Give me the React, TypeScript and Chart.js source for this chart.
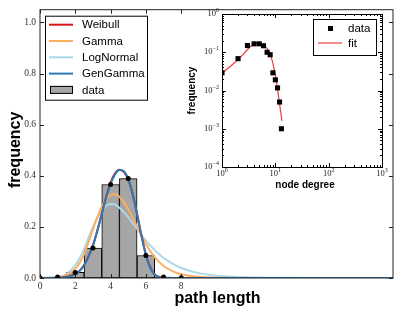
import React, { useEffect, useRef } from 'react';
import { Chart, registerables } from 'chart.js';
Chart.register(...registerables);

const W = 399;
const H = 316;

// ---- main panel data ----
const pathLengths = [0, 1, 2, 3, 4, 5, 6, 7, 8];
const pathFreq = [0.001, 0.004, 0.022, 0.117, 0.366, 0.389, 0.088, 0.004, 0.001];
const curveX = [0, 1, 1.5, 2, 2.25, 2.5, 2.75, 3, 3.25, 3.5, 3.75, 4, 4.25, 4.5, 4.75, 5, 5.25, 5.5, 5.75, 6, 6.25, 6.5, 6.75, 7, 7.5, 8, 9, 10, 11, 12, 13, 14, 16, 20];
const weibull = [0, 0.001, 0.005, 0.016, 0.029, 0.051, 0.085, 0.128, 0.186, 0.252, 0.318, 0.374, 0.41, 0.424, 0.415, 0.384, 0.328, 0.25, 0.166, 0.092, 0.042, 0.014, 0.004, 0.001, 0, 0, 0, 0, 0, 0, 0, 0, 0, 0];
const gamma = [0, 0.001, 0.01, 0.036, 0.06, 0.094, 0.14, 0.19, 0.238, 0.279, 0.309, 0.324, 0.328, 0.318, 0.297, 0.268, 0.236, 0.201, 0.166, 0.133, 0.105, 0.082, 0.063, 0.047, 0.027, 0.015, 0.0045, 0.0013, 0.0004, 0.0001, 0, 0, 0, 0];
const logNormal = [0, 0.002, 0.015, 0.05, 0.078, 0.113, 0.158, 0.2, 0.237, 0.265, 0.283, 0.29, 0.287, 0.275, 0.258, 0.238, 0.215, 0.192, 0.168, 0.146, 0.127, 0.109, 0.093, 0.079, 0.056, 0.039, 0.019, 0.009, 0.0045, 0.0022, 0.001, 0.0005, 0.0001, 0];
const genGamma = [0, 0.0005, 0.003, 0.014, 0.028, 0.05, 0.084, 0.127, 0.185, 0.25, 0.315, 0.368, 0.405, 0.423, 0.418, 0.388, 0.33, 0.25, 0.165, 0.09, 0.04, 0.013, 0.003, 0.0005, 0, 0, 0, 0, 0, 0, 0, 0, 0, 0];
const xTickValues = [0, 2, 4, 6, 8];
const yTickValues = [0, 0.2, 0.4, 0.6, 0.8, 1.0];
const xRange = [0, 20];
const yRange = [0, 1.05];

// ---- inset data ----
const degree = [1, 2, 3, 4, 5, 6, 7, 8, 9, 10, 11, 12, 13];
const degreeFreq = [0.029, 0.068, 0.15, 0.166, 0.166, 0.148, 0.1, 0.086, 0.029, 0.019, 0.0117, 0.005, 0.001];
const fitX = [1, 1.5, 2, 2.5, 3, 3.5, 4, 4.5, 5, 6, 7, 8, 9, 10, 11, 12, 13.3];
const fitY = [0.028, 0.045, 0.064, 0.088, 0.118, 0.145, 0.163, 0.172, 0.17, 0.153, 0.127, 0.093, 0.052, 0.026, 0.011, 0.0045, 0.0016];
const insetXTicks = [1, 10, 100, 1000];
const insetYTicks = [1e-4, 1e-3, 1e-2, 1e-1, 1];

const SANS = '"Liberation Sans", Arial, sans-serif';
const SERIF = '"Liberation Serif", "DejaVu Serif", serif';

const mainPlugin = {
  id: 'mainDecor',
  afterDraw(chart: any) {
    const { ctx, chartArea: ca, scales } = chart;
    const xs = scales.x;
    const ys = scales.y;
    ctx.save();
    // spines
    ctx.strokeStyle = '#222';
    ctx.lineWidth = 1;
    ctx.strokeRect(ca.left, ca.top, ca.right - ca.left, ca.bottom - ca.top);
    // inward ticks
    ctx.beginPath();
    const tl = 4;
    xTickValues.forEach((v) => {
      const px = Math.round(xs.getPixelForValue(v)) + 0.5;
      ctx.moveTo(px, ca.bottom);
      ctx.lineTo(px, ca.bottom - tl);
      ctx.moveTo(px, ca.top);
      ctx.lineTo(px, ca.top + tl);
    });
    yTickValues.forEach((v) => {
      const py = Math.round(ys.getPixelForValue(v)) + 0.5;
      ctx.moveTo(ca.left, py);
      ctx.lineTo(ca.left + tl, py);
      ctx.moveTo(ca.right, py);
      ctx.lineTo(ca.right - tl, py);
    });
    ctx.stroke();

    // axis titles
    ctx.fillStyle = '#000';
    ctx.font = 'bold 16px ' + SANS;
    ctx.textAlign = 'center';
    ctx.textBaseline = 'middle';
    ctx.fillText('path length', (ca.left + ca.right) / 2 + 1, 299);
    ctx.save();
    ctx.translate(16, (ca.top + ca.bottom) / 2 + 6);
    ctx.rotate(-Math.PI / 2);
    ctx.fillText('frequency', 0, 0);
    ctx.restore();

    // legend
    const lx = ca.left + 5;
    const ly = ca.top + 6;
    const lw = 103;
    const lh = 85;
    ctx.fillStyle = '#fff';
    ctx.fillRect(lx, ly, lw, lh);
    ctx.strokeStyle = '#000';
    ctx.lineWidth = 1;
    ctx.strokeRect(lx + 0.5, ly + 0.5, lw - 1, lh - 1);
    const ds = chart.data.datasets;
    const entries = [ds[1], ds[2], ds[3], ds[4], ds[0]];
    ctx.font = '11.5px ' + SANS;
    ctx.textAlign = 'left';
    ctx.textBaseline = 'middle';
    entries.forEach((d: any, i: number) => {
      const ey = ly + 9 + i * 16.3;
      if (d.type === 'bar') {
        ctx.fillStyle = d.backgroundColor;
        ctx.fillRect(lx + 5, ey - 4, 23, 8);
        ctx.strokeStyle = '#000';
        ctx.strokeRect(lx + 5.5, ey - 3.5, 22, 7);
      } else {
        ctx.strokeStyle = d.borderColor;
        ctx.lineWidth = 2;
        ctx.beginPath();
        ctx.moveTo(lx + 4, ey);
        ctx.lineTo(lx + 28, ey);
        ctx.stroke();
        ctx.lineWidth = 1;
      }
      ctx.fillStyle = '#000';
      ctx.fillText(d.label, lx + 37, ey + 0.5);
    });
    ctx.restore();
  },
};

function drawPow(ctx: any, x: number, y: number, v: number, align: string) {
  const e = Math.round(Math.log10(v));
  const expStr = e < 0 ? '\u2212' + Math.abs(e) : String(e);
  ctx.font = '8.5px ' + SERIF;
  const bw = ctx.measureText('10').width;
  ctx.font = '6px ' + SERIF;
  const ew = ctx.measureText(expStr).width;
  const total = bw + ew;
  const sx = align === 'right' ? x - total : x - total / 2;
  ctx.textAlign = 'left';
  ctx.textBaseline = 'middle';
  ctx.font = '8.5px ' + SERIF;
  ctx.fillText('10', sx, y);
  ctx.font = '6px ' + SERIF;
  ctx.fillText(expStr, sx + bw, y - 3.5);
}

const insetPlugin = {
  id: 'insetDecor',
  beforeDatasetsDraw(chart: any) {
    const { ctx, chartArea: ca } = chart;
    ctx.save();
    ctx.fillStyle = '#fff';
    ctx.fillRect(ca.left, ca.top, ca.right - ca.left, ca.bottom - ca.top);
    ctx.restore();
  },
  afterDraw(chart: any) {
    const { ctx, chartArea: ca, scales } = chart;
    const xs = scales.x;
    const ys = scales.y;
    ctx.save();
    ctx.strokeStyle = '#000';
    ctx.lineWidth = 1;
    ctx.strokeRect(Math.round(ca.left) + 0.5, Math.round(ca.top) + 0.5, Math.round(ca.right - ca.left), Math.round(ca.bottom - ca.top));
    ctx.beginPath();
    // x ticks
    for (let d = 0; d < 3; d++) {
      for (let m = 1; m <= 9; m++) {
        const v = m * Math.pow(10, d);
        const px = Math.round(xs.getPixelForValue(v)) + 0.5;
        const len = m === 1 ? 4 : 2;
        ctx.moveTo(px, ca.bottom);
        ctx.lineTo(px, ca.bottom - len);
        ctx.moveTo(px, ca.top);
        ctx.lineTo(px, ca.top + len);
      }
    }
    for (let d = -4; d < 0; d++) {
      for (let m = 1; m <= 9; m++) {
        const v = m * Math.pow(10, d);
        const py = Math.round(ys.getPixelForValue(v)) + 0.5;
        const len = m === 1 ? 4 : 2;
        ctx.moveTo(ca.left, py);
        ctx.lineTo(ca.left + len, py);
        ctx.moveTo(ca.right, py);
        ctx.lineTo(ca.right - len, py);
      }
    }
    ctx.stroke();

    // tick labels
    ctx.fillStyle = '#222';
    insetXTicks.forEach((v) => {
      drawPow(ctx, xs.getPixelForValue(v), ca.bottom + 7, v, 'center');
    });
    insetYTicks.forEach((v) => {
      drawPow(ctx, ca.left - 3, ys.getPixelForValue(v), v, 'right');
    });

    // titles
    ctx.fillStyle = '#000';
    ctx.font = 'bold 10px ' + SANS;
    ctx.textAlign = 'center';
    ctx.textBaseline = 'middle';
    ctx.fillText('node degree', (ca.left + ca.right) / 2 + 3, ca.bottom + 18);
    ctx.save();
    ctx.translate(ca.left - 30, (ca.top + ca.bottom) / 2);
    ctx.rotate(-Math.PI / 2);
    ctx.fillText('frequency', 0, 0);
    ctx.restore();

    // legend
    const bx = ca.right - 69;
    const by = ca.top + 5;
    const bw = 63;
    const bh = 36;
    ctx.fillStyle = '#fff';
    ctx.fillRect(bx, by, bw, bh);
    ctx.strokeStyle = '#000';
    ctx.strokeRect(Math.round(bx) + 0.5, Math.round(by) + 0.5, bw, bh);
    const ds = chart.data.datasets;
    ctx.font = '11.5px ' + SANS;
    ctx.textAlign = 'left';
    // data
    const y1 = by + 9.5;
    ctx.fillStyle = '#000';
    ctx.fillRect(bx + 15, y1 - 2.5, 5, 5);
    ctx.fillText(ds[1].label, bx + 35, y1 + 0.5);
    const y2 = by + 24;
    ctx.strokeStyle = ds[0].borderColor;
    ctx.lineWidth = 1.2;
    ctx.beginPath();
    ctx.moveTo(bx + 5, y2);
    ctx.lineTo(bx + 29, y2);
    ctx.stroke();
    ctx.fillText(ds[0].label, bx + 35, y2 + 0.5);
    ctx.restore();
  },
};

export default function App() {
  const mainRef = useRef<HTMLCanvasElement>(null);
  const insetRef = useRef<HTMLCanvasElement>(null);

  useEffect(() => {
    const mk = (xv: number[], yv: number[]) => xv.map((x, i) => ({ x, y: yv[i] }));
    const lineDs = (label: string, data: number[], color: string, order: number) => ({
      type: 'line',
      label,
      data: mk(curveX, data),
      borderColor: color,
      backgroundColor: color,
      borderWidth: 2,
      pointRadius: 0,
      fill: false,
      cubicInterpolationMode: 'monotone',
      order,
    });
    const main = new Chart(mainRef.current as HTMLCanvasElement, {
      type: 'line',
      data: {
        datasets: [
          {
            type: 'bar',
            label: 'data',
            data: mk(pathLengths, pathFreq),
            backgroundColor: '#a6a6a6',
            borderColor: '#000',
            borderWidth: 1,
            borderSkipped: false,
            barPercentage: 1,
            categoryPercentage: 1,
            order: 10,
          } as any,
          lineDs('Weibull', weibull, '#d7191c', 3),
          lineDs('Gamma', gamma, '#fdae61', 4),
          lineDs('LogNormal', logNormal, '#abd9e9', 5),
          lineDs('GenGamma', genGamma, '#2c7bb6', 2),
          {
            type: 'line',
            label: 'points',
            data: mk(pathLengths, pathFreq),
            showLine: false,
            pointRadius: 2.5,
            pointBackgroundColor: '#000',
            pointBorderWidth: 0,
            order: 1,
          } as any,
        ] as any,
      },
      options: {
        responsive: false,
        animation: false,
        layout: { padding: { left: 0, right: 6, top: 5, bottom: 0 } },
        plugins: { legend: { display: false }, tooltip: { enabled: false } },
        scales: {
          x: {
            type: 'linear',
            min: xRange[0],
            max: xRange[1],
            offset: false,
            grid: { display: false, drawTicks: false, offset: false },
            border: { display: false },
            afterBuildTicks: (s: any) => {
              s.ticks = xTickValues.map((v) => ({ value: v }));
            },
            afterFit: (s: any) => {
              s.height = 38;
            },
            ticks: {
              font: { family: SERIF, size: 9.5 },
              color: '#333',
              padding: 3,
              maxRotation: 0,
              autoSkip: false,
              callback: (v: any) => String(v),
            },
          },
          y: {
            type: 'linear',
            min: yRange[0],
            max: yRange[1],
            grid: { display: false, drawTicks: false },
            border: { display: false },
            afterBuildTicks: (s: any) => {
              s.ticks = yTickValues.map((v) => ({ value: v }));
            },
            afterFit: (s: any) => {
              s.width = 40;
            },
            ticks: {
              font: { family: SERIF, size: 9.5 },
              color: '#333',
              padding: 4,
              callback: (v: any) => Number(v).toFixed(1),
            },
          },
        },
      } as any,
      plugins: [mainPlugin],
    });

    const inset = new Chart(insetRef.current as HTMLCanvasElement, {
      type: 'line',
      data: {
        datasets: [
          {
            label: 'fit',
            data: mk(fitX, fitY),
            borderColor: '#ee3b3b',
            borderWidth: 1.2,
            pointRadius: 0,
            fill: false,
            order: 2,
          },
          {
            label: 'data',
            data: mk(degree, degreeFreq),
            showLine: false,
            pointStyle: 'rect',
            pointRadius: 3.6,
            pointBackgroundColor: '#000',
            pointBorderWidth: 0,
            order: 1,
          },
        ] as any,
      },
      options: {
        responsive: false,
        animation: false,
        layout: { padding: { left: 222, right: 17, top: 14, bottom: 149 } },
        plugins: { legend: { display: false }, tooltip: { enabled: false } },
        scales: {
          x: { type: 'logarithmic', min: 1, max: 1000, display: false },
          y: { type: 'logarithmic', min: 1e-4, max: 1, display: false },
        },
      } as any,
      plugins: [insetPlugin],
    });

    return () => {
      main.destroy();
      inset.destroy();
    };
  }, []);

  return (
    <div style={{ position: 'absolute', left: 0, top: 0, width: W, height: H, background: '#fff' }}>
      <canvas ref={mainRef} width={W} height={H} style={{ position: 'absolute', left: 0, top: 0 }} />
      <canvas ref={insetRef} width={W} height={H} style={{ position: 'absolute', left: 0, top: 0, pointerEvents: 'none' }} />
    </div>
  );
}
